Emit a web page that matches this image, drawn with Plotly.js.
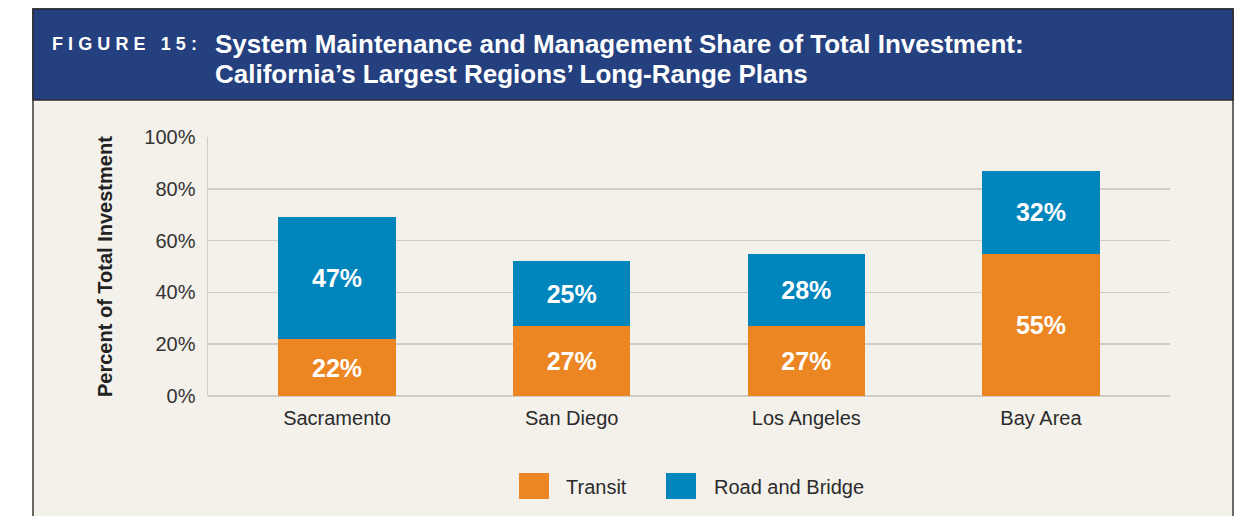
<!DOCTYPE html>
<html>
<head>
<meta charset="utf-8">
<script src="https://cdn.plot.ly/plotly-3.0.1.min.js"></script>
<style>html,body{margin:0;padding:0;background:#fff;}#chart{width:1249px;height:516px;}</style>
</head>
<body>
<div id="chart"></div>
<script>
const categories = ["Sacramento", "San Diego", "Los Angeles", "Bay Area"];
const transit = [22, 27, 27, 55];
const roadBridge = [47, 25, 28, 32];
const seriesNames = ["Transit", "Road and Bridge"];
const seriesColors = ["#EC8623", "#0085BD"];
const yTicks = [0, 20, 40, 60, 80, 100];
const figureLabel = "FIGURE 15:";
const titleLines = ["System Maintenance and Management Share of Total Investment:", "California\u2019s Largest Regions\u2019 Long-Range Plans"];
const yTitle = "Percent of Total Investment";

const W = 1249, H = 516;
const L = 208, R = 79, T = 137, B = 120;
const PW = W - L - R, PH = H - T - B;
const px = x => (x - L) / PW;
const py = y => 1 - (y - T) / PH;

const fontMain = "'Liberation Sans', Arial, sans-serif";
const fontNarrow = "'Liberation Sans Narrow', 'Liberation Sans', Arial, sans-serif";

function barTrace(name, vals, color) {
  return {
    type: "bar", name: name, x: categories, y: vals,
    marker: {color: color, line: {width: 0}},
    width: 0.5,
    text: vals.map(v => v + "%"),
    texttemplate: "%{text}",
    textposition: "inside", insidetextanchor: "middle",
    textangle: 0,
    textfont: {family: fontMain, size: 25, color: "#ffffff", weight: "bold"},
    hoverinfo: "skip",
    showlegend: false
  };
}

const data = [barTrace(seriesNames[0], transit, seriesColors[0]), barTrace(seriesNames[1], roadBridge, seriesColors[1])];

const shapes = [
  {type: "rect", xref: "paper", yref: "paper", x0: px(33), x1: px(1233), y0: py(9), y1: py(530),
   fillcolor: "#F4F1EB", line: {color: "#3a3a3a", width: 1.5}, layer: "below"},
  {type: "rect", xref: "paper", yref: "paper", x0: px(33), x1: px(1233), y0: py(9), y1: py(100),
   fillcolor: "#25407F", line: {color: "#2a2a2a", width: 1.5}, layer: "below"},
  {type: "rect", xref: "paper", yref: "paper", x0: px(519), x1: px(549), y0: py(499), y1: py(473),
   fillcolor: seriesColors[0], line: {width: 0}},
  {type: "rect", xref: "paper", yref: "paper", x0: px(666), x1: px(696), y0: py(499), y1: py(473),
   fillcolor: seriesColors[1], line: {width: 0}}
];

const annotations = [
  {xref: "paper", yref: "paper", x: px(50), y: py(44), xanchor: "left", yanchor: "middle", showarrow: false,
   text: figureLabel.split("").join("\u2009\u200A"), font: {family: fontMain, size: 18, color: "#ffffff", weight: "bold"}},
  {xref: "paper", yref: "paper", x: px(213), y: py(44), xanchor: "left", yanchor: "middle", showarrow: false,
   text: titleLines[0], font: {family: fontNarrow, size: 26, color: "#ffffff", weight: "bold"}},
  {xref: "paper", yref: "paper", x: px(213), y: py(74), xanchor: "left", yanchor: "middle", showarrow: false,
   text: titleLines[1], font: {family: fontNarrow, size: 26, color: "#ffffff", weight: "bold"}},
  {xref: "paper", yref: "paper", x: px(105), y: py(267), xanchor: "center", yanchor: "middle", showarrow: false,
   textangle: -90, text: yTitle, font: {family: fontMain, size: 20, color: "#222222", weight: "bold"}},
  {xref: "paper", yref: "paper", x: px(564), y: py(487), xanchor: "left", yanchor: "middle", showarrow: false,
   text: seriesNames[0], font: {family: fontMain, size: 20, color: "#2b2b2b"}},
  {xref: "paper", yref: "paper", x: px(712), y: py(487), xanchor: "left", yanchor: "middle", showarrow: false,
   text: seriesNames[1], font: {family: fontMain, size: 20, color: "#2b2b2b"}}
];

const layout = {
  width: W, height: H,
  margin: {l: L, r: R, t: T, b: B, pad: 0},
  paper_bgcolor: "#ffffff", plot_bgcolor: "rgba(0,0,0,0)",
  barmode: "stack",
  showlegend: false,
  xaxis: {
    type: "category", range: [-0.55, 3.55], showgrid: false, zeroline: false,
    showline: false, ticks: "", tickfont: {family: fontMain, size: 20, color: "#2b2b2b"},
    ticklabelstandoff: 8, fixedrange: true
  },
  yaxis: {
    range: [0, 100], tickvals: yTicks, ticktext: yTicks.map(v => v + "%"),
    showgrid: true, gridcolor: "#cfcdca", gridwidth: 1.5,
    zeroline: true, zerolinecolor: "#cfcdca", zerolinewidth: 1.5,
    showline: true, linecolor: "#cfcdca", linewidth: 1.5,
    ticks: "", tickfont: {family: fontMain, size: 20, color: "#333333"},
    ticklabelstandoff: 7, fixedrange: true
  },
  shapes: shapes,
  annotations: annotations
};

Plotly.newPlot("chart", data, layout, {displayModeBar: false, staticPlot: true});
</script>
</body>
</html>
